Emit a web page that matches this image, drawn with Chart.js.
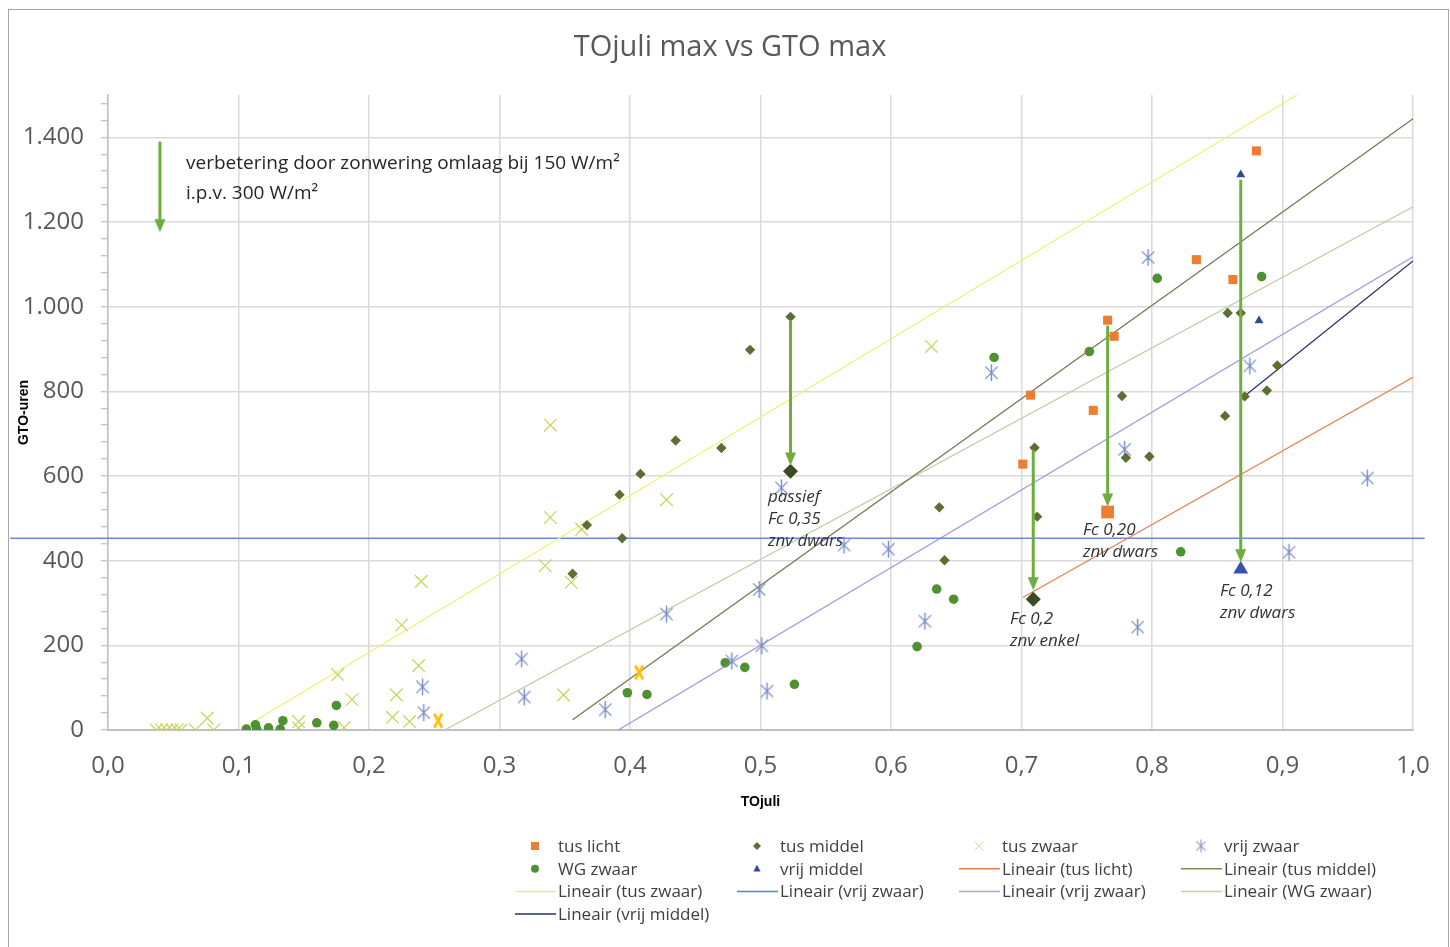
<!DOCTYPE html>
<html>
<head>
<meta charset="utf-8">
<script src="https://cdn.jsdelivr.net/npm/chart.js@4.4.0/dist/chart.umd.min.js"></script>
<style>
  html, body { margin: 0; padding: 0; background: #fff; }
  #wrap { width: 1450px; height: 947px; }
</style>
</head>
<body>
<div id="wrap"><canvas id="chart" width="1450" height="947"></canvas></div>
<script>
// as-waarden
const xTicks = [0, 0.1, 0.2, 0.3, 0.4, 0.5, 0.6, 0.7, 0.8, 0.9, 1.0];
const yTicks = [0, 200, 400, 600, 800, 1000, 1200, 1400];

// meetpunten [TOjuli, GTO-uren]
const tusLicht = [[0.880, 1368], [0.834, 1111], [0.862, 1064], [0.766, 968], [0.771, 930], [0.707, 791], [0.755, 755], [0.701, 628]];
const tusLichtFc = [[0.766, 515]];
const tusMiddel = [[0.523, 976], [0.492, 898], [0.435, 684], [0.470, 666], [0.408, 605], [0.392, 556], [0.367, 484], [0.394, 453], [0.356, 369],
  [0.637, 526], [0.641, 401], [0.710, 667], [0.712, 504], [0.777, 789], [0.780, 643], [0.798, 646], [0.858, 985], [0.868, 985],
  [0.871, 788], [0.856, 742], [0.896, 861], [0.888, 802]];
const tusMiddelFc = [[0.523, 611], [0.709, 309]];
const tusZwaar = [[0.037, 0], [0.041, 0], [0.045, 0], [0.049, 0], [0.053, 0], [0.056, 0], [0.067, 0], [0.076, 28], [0.081, 0],
  [0.146, 20], [0.146, 5], [0.176, 131], [0.181, 6], [0.187, 72], [0.218, 30], [0.221, 83], [0.225, 248], [0.231, 20],
  [0.238, 152], [0.240, 351], [0.335, 388], [0.339, 720], [0.339, 502], [0.349, 83], [0.355, 349], [0.363, 474], [0.428, 544], [0.631, 906]];
const tusZwaarGeel = [[0.253, 22], [0.407, 136]];
const vrijZwaar = [[0.241, 102], [0.242, 41], [0.317, 168], [0.319, 78], [0.381, 48], [0.428, 274], [0.478, 163], [0.499, 332],
  [0.501, 199], [0.505, 92], [0.516, 572], [0.564, 437], [0.598, 427], [0.626, 257], [0.677, 844], [0.779, 663], [0.789, 243],
  [0.797, 1116], [0.875, 860], [0.905, 420], [0.965, 595]];
const wgZwaar = [[0.106, 2], [0.113, 12], [0.114, 2], [0.123, 5], [0.132, 2], [0.134, 22], [0.160, 17], [0.173, 11], [0.175, 58],
  [0.398, 88], [0.413, 84], [0.473, 159], [0.488, 148], [0.526, 108], [0.620, 197], [0.635, 333], [0.648, 309], [0.679, 880],
  [0.752, 894], [0.804, 1067], [0.822, 421], [0.884, 1071]];
const vrijMiddel = [[0.868, 1312], [0.882, 967]];
const vrijMiddelFc = [[0.868, 380]];

// trendlijnen (begin- en eindpunt)
const trendTusLicht = [[0.701, 313], [1.0, 833]];
const trendTusMiddel = [[0.356, 24], [1.0, 1444]];
const trendTusZwaar = [[0.101, 0], [0.911, 1500]];
const trendVrijZwaarH = [[-0.075, 453], [1.009, 453]];
const trendVrijZwaar = [[0.391, 0], [1.0, 1118]];
const trendWgZwaar = [[0.258, 0], [1.0, 1236]];
const trendVrijMiddel = [[0.871, 789], [1.0, 1108]];

// pijlen [x, van, tot]
const arrows = [[0.0398, 1390, 1176], [0.523, 968, 625], [0.709, 662, 330], [0.766, 955, 528], [0.868, 1300, 396]];

// teksten in de grafiek
const notes = [
  { x: 0.0598, y: 1338, lines: ["verbetering door zonwering omlaag bij 150 W/m²", "i.p.v. 300 W/m²"], italic: false },
  { x: 0.5057, y: 549, lines: ["passief", "Fc 0,35", "znv dwars"], italic: true },
  { x: 0.6912, y: 262, lines: ["Fc 0,2", "znv enkel"], italic: true },
  { x: 0.7471, y: 473, lines: ["Fc 0,20", "znv dwars"], italic: true },
  { x: 0.8521, y: 329, lines: ["Fc 0,12", "znv dwars"], italic: true },
];

const pts = (a) => a.map((p) => ({ x: p[0], y: p[1] }));
const fmtY = (v) => (v >= 1000 ? Math.floor(v / 1000) + "." + String(v % 1000).padStart(3, "0") : String(v));
const fmtX = (v) => v.toFixed(1).replace(".", ",");

// sterretje zoals in Excel (verticale streep + kruis)
function makeAsterisk(color, size, lw) {
  const c = document.createElement("canvas");
  c.width = c.height = size;
  const g = c.getContext("2d");
  const m = size / 2, r = size / 2 - 1, d = r * 0.72;
  g.strokeStyle = color;
  g.lineWidth = lw;
  g.beginPath();
  g.moveTo(m, m - r); g.lineTo(m, m + r);
  g.moveTo(m - d, m - d); g.lineTo(m + d, m + d);
  g.moveTo(m + d, m - d); g.lineTo(m - d, m + d);
  g.stroke();
  return c;
}
function makeBoldX(color, w, h, lw) {
  const c = document.createElement("canvas");
  c.width = w; c.height = h;
  const g = c.getContext("2d");
  g.strokeStyle = color;
  g.lineWidth = lw;
  g.beginPath();
  g.moveTo(3, 2); g.lineTo(w - 3, h - 2);
  g.moveTo(w - 3, 2); g.lineTo(3, h - 2);
  g.stroke();
  return c;
}
const asterisk = makeAsterisk("#7B8CC6", 19, 1.4);
const asteriskLegend = makeAsterisk("#8A96C8", 15, 1.1);
const boldX = makeBoldX("#FFC000", 14, 18, 2.8);

const C = {
  tusLicht: "#ED7D31", tusMiddel: "#5B6E33", tusMiddelFc: "#3A4A22", tusZwaar: "#CAD463",
  wgZwaar: "#4F9130", vrijMiddel: "#2E4B9B", vrijMiddelFc: "#3553B0",
  lTusLicht: "#E4804E", lTusMiddel: "#6F7A52", lTusZwaar: "#F3F07A", lVrijZwaarH: "#6A8BDB",
  lVrijZwaar: "#9C9CE2", lWgZwaar: "#C3CCA6", lVrijMiddel: "#26336E", arrow: "#6DAE3F",
};

function pointSet(label, data, style, radius, color, lg, extra) {
  return Object.assign({
    label: label, data: pts(data), pointStyle: style, pointRadius: radius, pointHoverRadius: radius,
    backgroundColor: color, borderColor: color, borderWidth: 0, showLine: false, order: 0, lg: lg,
  }, extra || {});
}
function trendSet(label, data, color, lg, extra) {
  return Object.assign({
    label: label, data: pts(data), showLine: true, pointRadius: 0, pointHoverRadius: 0,
    borderColor: color, backgroundColor: color, borderWidth: 1.3, fill: false, order: 2, lg: lg,
  }, extra || {});
}

const datasets = [
  pointSet("tus licht", tusLicht, "rect", 6.4, C.tusLicht, { type: "rect", size: 8, color: C.tusLicht }),
  pointSet("tus middel", tusMiddel, "rectRot", 5.2, C.tusMiddel, { type: "diamond", size: 8, color: C.tusMiddel }),
  pointSet("tus zwaar", tusZwaar, "crossRot", 9, C.tusZwaar, { type: "x", size: 9, color: "#D6DC9A" }, { borderWidth: 1.3 }),
  pointSet("vrij zwaar", vrijZwaar, asterisk, 9, "#7B8CC6", { type: "image", img: asteriskLegend, size: 15 }),
  pointSet("WG zwaar", wgZwaar, "circle", 4.8, C.wgZwaar, { type: "circle", size: 8, color: C.wgZwaar }),
  pointSet("vrij middel", vrijMiddel, "triangle", 5.2, C.vrijMiddel, { type: "triangle", size: 8, color: C.vrijMiddel }),
  trendSet("Lineair (tus licht)", trendTusLicht, C.lTusLicht, { type: "line", color: C.lTusLicht }),
  trendSet("Lineair (tus middel)", trendTusMiddel, C.lTusMiddel, { type: "line", color: "#7E8C5C" }),
  trendSet("Lineair (tus zwaar)", trendTusZwaar, C.lTusZwaar, { type: "line", color: "#F6E98A" }),
  trendSet("Lineair (vrij zwaar)", trendVrijZwaarH, C.lVrijZwaarH, { type: "line", color: "#5B82D6" }, { clip: false }),
  trendSet("Lineair (vrij zwaar)", trendVrijZwaar, C.lVrijZwaar, { type: "line", color: "#A8A8E4" }),
  trendSet("Lineair (WG zwaar)", trendWgZwaar, C.lWgZwaar, { type: "line", color: "#C7D0A0" }),
  trendSet("Lineair (vrij middel)", trendVrijMiddel, C.lVrijMiddel, { type: "line", color: C.lVrijMiddel }),
  // gemarkeerde punten (Fc-varianten)
  pointSet("tus licht Fc", tusLichtFc, "rect", 9, C.tusLicht, null),
  pointSet("tus middel Fc", tusMiddelFc, "rectRot", 7.5, C.tusMiddelFc, null),
  pointSet("vrij middel Fc", vrijMiddelFc, "triangle", 8.5, C.vrijMiddelFc, null),
  pointSet("tus zwaar X", tusZwaarGeel, boldX, 9, "#FFC000", null),
];

const legendCols = [558, 780, 1002, 1224];
const legendTop = 846, legendRowH = 22.7;

function drawMarker(c, m, x, y) {
  const s = m.size;
  c.save();
  c.fillStyle = m.color; c.strokeStyle = m.color;
  c.beginPath();
  if (m.type === "rect") {
    c.fillRect(x - s / 2, y - s / 2, s, s);
  } else if (m.type === "diamond") {
    c.moveTo(x, y - s / 2); c.lineTo(x + s / 2, y); c.lineTo(x, y + s / 2); c.lineTo(x - s / 2, y); c.closePath(); c.fill();
  } else if (m.type === "circle") {
    c.arc(x, y, s / 2, 0, Math.PI * 2); c.fill();
  } else if (m.type === "triangle") {
    c.moveTo(x, y - s / 2); c.lineTo(x + s * 0.45, y + s * 0.35); c.lineTo(x - s * 0.45, y + s * 0.35); c.closePath(); c.fill();
  } else if (m.type === "x") {
    c.lineWidth = 1;
    c.moveTo(x - s / 2, y - s / 2); c.lineTo(x + s / 2, y + s / 2);
    c.moveTo(x + s / 2, y - s / 2); c.lineTo(x - s / 2, y + s / 2); c.stroke();
  } else if (m.type === "image") {
    c.drawImage(m.img, x - s / 2, y - s / 2, s, s);
  }
  c.restore();
}

const decor = {
  id: "decor",
  beforeDraw(chart) {
    const c = chart.ctx;
    c.save();
    c.fillStyle = "#fff";
    c.fillRect(0, 0, chart.width, chart.height);
    c.strokeStyle = "#A6A6A6";
    c.lineWidth = 1;
    c.strokeRect(8.5, 9.5, 1440, 945);
    c.restore();
  },
  afterDatasetsDraw(chart) {
    const c = chart.ctx, xs = chart.scales.x, ys = chart.scales.y;
    c.save();
    c.strokeStyle = C.arrow; c.fillStyle = C.arrow;
    arrows.forEach((a) => {
      const x = xs.getPixelForValue(a[0]), y0 = ys.getPixelForValue(a[1]), y1 = ys.getPixelForValue(a[2]);
      c.lineWidth = 3;
      c.beginPath(); c.moveTo(x, y0); c.lineTo(x, y1 - 11); c.stroke();
      c.beginPath(); c.moveTo(x - 5.5, y1 - 13); c.lineTo(x + 5.5, y1 - 13); c.lineTo(x, y1); c.closePath(); c.fill();
    });
    c.textAlign = "left"; c.textBaseline = "middle";
    notes.forEach((n) => {
      const x = xs.getPixelForValue(n.x), y = ys.getPixelForValue(n.y);
      c.fillStyle = n.italic ? "#333" : "#262626";
      c.font = n.italic ? "italic 17px 'Open Sans'" : "19px 'Open Sans'";
      const lh = n.italic ? 22 : 30;
      n.lines.forEach((t, i) => c.fillText(t, x, y + i * lh));
    });
    c.restore();
  },
  afterDraw(chart) {
    const c = chart.ctx;
    c.save();
    // titel
    c.fillStyle = "#595959";
    c.font = "29px 'Open Sans'";
    c.textAlign = "center"; c.textBaseline = "middle";
    c.fillText("TOjuli max vs GTO max", 730, 48);
    // legenda, 4 kolommen
    c.font = "17px 'Open Sans'";
    c.textAlign = "left";
    let i = 0;
    chart.data.datasets.forEach((ds) => {
      if (!ds.lg) return;
      const col = i % 4, row = Math.floor(i / 4);
      const tx = legendCols[col], ty = legendTop + row * legendRowH;
      if (ds.lg.type === "line") {
        c.strokeStyle = ds.lg.color; c.lineWidth = 1.5;
        c.beginPath(); c.moveTo(tx - 43, ty); c.lineTo(tx - 2, ty); c.stroke();
      } else {
        drawMarker(c, ds.lg, tx - 23, ty);
      }
      c.fillStyle = "#404040";
      c.fillText(ds.label, tx, ty + 1);
      i++;
    });
    c.restore();
  },
};

const chart = new Chart(document.getElementById("chart"), {
  type: "scatter",
  data: { datasets: datasets },
  plugins: [decor],
  options: {
    responsive: false,
    animation: false,
    events: [],
    layout: { padding: { left: 10, right: 37, top: 95, bottom: 132 } },
    plugins: { legend: { display: false }, title: { display: false }, tooltip: { enabled: false } },
    scales: {
      x: {
        type: "linear",
        min: 0, max: 1,
        afterBuildTicks: (s) => { s.ticks = xTicks.map((v) => ({ value: v })); },
        afterFit: (s) => { s.height = 85; s.paddingRight = 20; s.paddingLeft = 20; },
        ticks: { callback: (v) => fmtX(v), color: "#595959", padding: 22, font: { family: "Open Sans", size: 24 }, autoSkip: false, maxRotation: 0 },
        grid: { color: "#D9D9D9", lineWidth: 1.5, drawTicks: false },
        border: { color: "#BFBFBF", width: 2 },
        title: { display: true, text: "TOjuli", color: "#000", font: { family: "Liberation Sans", size: 14, weight: "bold" }, padding: 4 },
      },
      y: {
        type: "linear",
        min: 0, max: 1500,
        afterBuildTicks: (s) => {
          const t = [];
          for (let v = 0; v <= 1480; v += 40) t.push({ value: v });
          s.ticks = t;
        },
        afterFit: (s) => { s.width = 98; },
        ticks: {
          callback: (v) => (yTicks.includes(v) ? fmtY(v) : ""),
          color: "#595959", padding: 17, font: { family: "Open Sans", size: 24 }, autoSkip: false,
        },
        grid: {
          color: (ctx) => (ctx.tick && ctx.tick.value % 200 === 0 && ctx.tick.value > 0 ? "#D9D9D9" : "rgba(0,0,0,0)"),
          lineWidth: 1.5, tickColor: "#BFBFBF", tickLength: 7, tickWidth: 1.2,
        },
        border: { color: "#BFBFBF", width: 1.5 },
        title: { display: true, text: "GTO-uren", color: "#000", font: { family: "Liberation Sans", size: 14, weight: "bold" }, padding: 6 },
      },
    },
  },
});
</script>
</body>
</html>
